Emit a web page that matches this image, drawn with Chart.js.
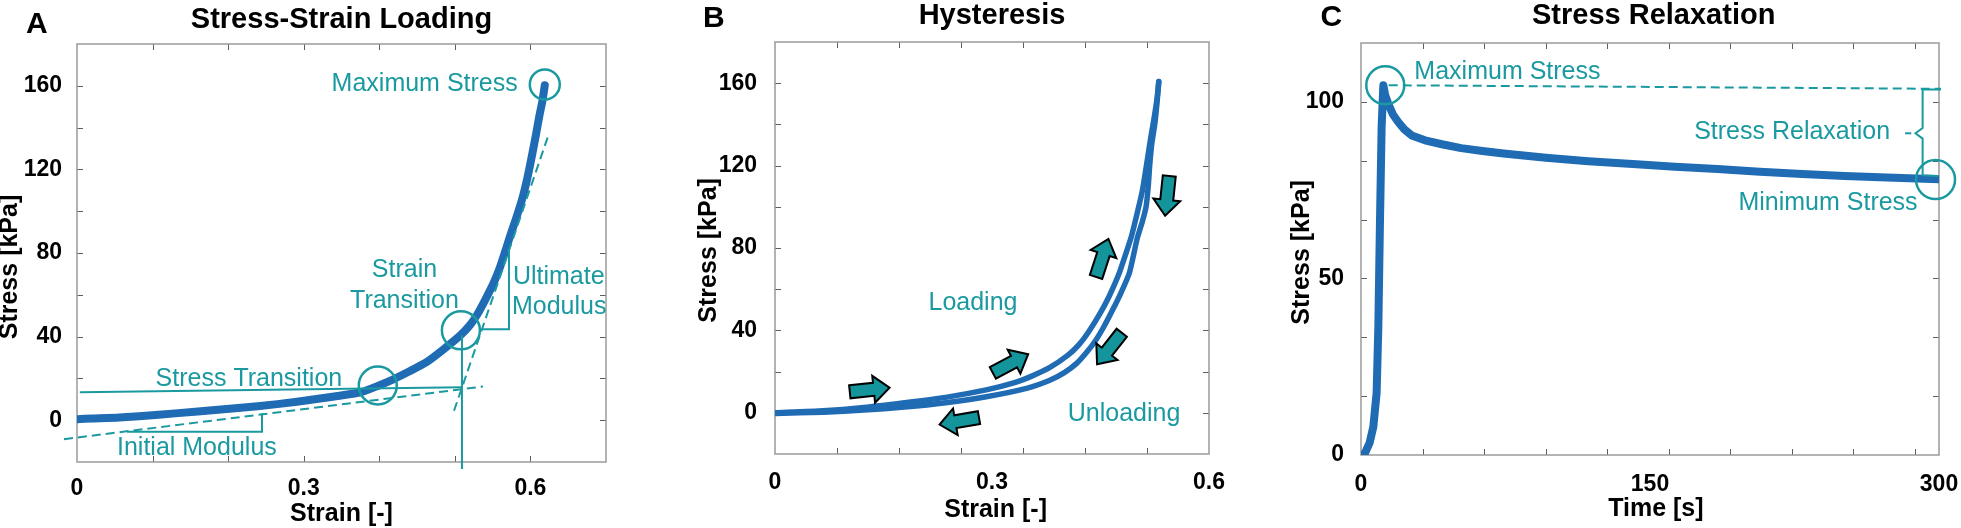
<!DOCTYPE html>
<html><head><meta charset="utf-8">
<script src="https://cdn.jsdelivr.net/npm/chart.js@4.4.1/dist/chart.umd.min.js"></script>
<style>
html,body{margin:0;padding:0;background:#fff;}
#wrap{position:relative;width:1961px;height:528px;overflow:hidden;background:#fff;}
canvas{position:absolute;top:0;}
</style></head><body>
<div id="wrap">
<canvas id="cA" width="640" height="528" style="left:0px"></canvas>
<canvas id="cB" width="640" height="528" style="left:640px"></canvas>
<canvas id="cC" width="681" height="528" style="left:1280px"></canvas>
</div>
<script>
// ---------- Panel A: stress-strain loading ----------
const strainA = [0, 0.02, 0.056, 0.108, 0.16, 0.213, 0.265, 0.317, 0.345, 0.375, 0.398, 0.42, 0.44, 0.463, 0.485, 0.507, 0.52, 0.529, 0.54, 0.551, 0.56, 0.5685, 0.573, 0.581, 0.589, 0.596, 0.602, 0.607, 0.612, 0.616, 0.619];
const stressA = [0.5, 0.8, 1.3, 2.6, 4.2, 5.8, 7.7, 10.1, 11.6, 13.3, 16.4, 19.8, 23.4, 27.9, 33.9, 40.5, 45.5, 50.2, 57.5, 65.4, 73.5, 82.9, 88, 96.5, 105.7, 116, 126.6, 136, 145.9, 153, 160.3];
const aXTicks = [0, 0.3, 0.6];
const aXTickText = ['0', '0.3', '0.6'];
const aYTicks = [0, 40, 80, 120, 160];
const aXMarks = [0.1, 0.2, 0.3, 0.4, 0.5, 0.6];
const aYMarks = [0, 20, 40, 60, 80, 100, 120, 140, 160];
const aInitialTangent = [[-0.0172, -9.1], [0.5372, 16.1]];
const aInitialLegs = [[0.0662, -5.5], [0.2448, -5.5], [0.2448, 3.3]];
const aStressTransLine = [[0.0037, 13.4], [0.5104, 15.8]];
const aStrainTransLine = [[0.5094, 40.7], [0.5094, -23.4]];
const aUltimateTangent = [[0.4989, 4.5], [0.6227, 135.2]];
const aUltimateLegs = [[0.5354, 43.5], [0.5716, 43.5], [0.5716, 81.8]];
const aCircles = [[0.619, 160.6], [0.508, 43.0], [0.398, 16.6]];
const aCircleRadii = [15, 19, 19];

// ---------- Panel B: hysteresis ----------
const loadStrainB = [0, 0.0666, 0.123, 0.179, 0.236, 0.292, 0.33, 0.355, 0.38, 0.405, 0.42, 0.433, 0.449, 0.462, 0.475, 0.484, 0.493, 0.501, 0.508, 0.515, 0.519, 0.524, 0.528, 0.5306];
const loadStressB = [0, 1, 2.6, 4.9, 7.5, 11.1, 14.5, 17.8, 22, 28, 33, 39, 48, 56.6, 67, 76.2, 86, 97.3, 108, 123.4, 132.5, 142.9, 152, 160.8];
const unloadStrainB = [0.5306, 0.528, 0.525, 0.521, 0.518, 0.516, 0.513, 0.508, 0.501, 0.49, 0.478, 0.467, 0.455, 0.443, 0.43, 0.417, 0.4, 0.38, 0.349, 0.292, 0.236, 0.179, 0.123, 0.067, 0];
const unloadStressB = [160.8, 150, 140, 131, 120, 110, 100, 93, 85, 68, 58, 50.1, 42, 35, 29, 24, 19.5, 15.8, 12, 7.8, 4.9, 2.8, 1.3, 0.3, -0.3];
const bXTicks = [0, 0.3, 0.6];
const bXTickText = ['0', '0.3', '0.6'];
const bYTicks = [0, 40, 80, 120, 160];
const bXMarks = [0.0857, 0.1714, 0.2571, 0.3429, 0.4286, 0.5143];
const bYMarks = [0, 20, 40, 60, 80, 100, 120, 140, 160];
const bArrowStrain = [0.1309, 0.3256, 0.4524, 0.5422, 0.4623, 0.2548];
const bArrowStress = [11.2, 23.9, 75.2, 105.3, 31.2, -4.0];
const bArrowAngle = [-6, -28, -72, 96, 128, 170];

// ---------- Panel C: stress relaxation ----------
const timeC = [0, 2.07, 4.5, 6.4, 8.1, 9.0, 9.8, 10.7, 11.6, 12.5, 14.1, 16.5, 19.3, 22.5, 26.3, 33.2, 42, 52, 63, 74, 96, 118, 141, 163, 185, 207, 229, 251, 273, 300];
const stressC = [0, 0.5, 3.5, 8, 17.5, 36.3, 64.6, 92.9, 104.7, 102, 99.5, 96.5, 94.3, 92.2, 90.5, 89.1, 88, 86.9, 86.1, 85.4, 84.2, 83.2, 82.4, 81.6, 81, 80.2, 79.6, 79, 78.6, 78.1];
const cXTicks = [0, 150, 300];
const cXTickText = ['0', '150', '300'];
const cYTicks = [0, 50, 100];
const cXMarks = [31.95, 63.9, 95.85, 127.8, 159.75, 191.7, 223.65, 255.6, 287.55];
const cYMarks = [16.667, 33.333, 50, 66.667, 83.333, 100];
const cMaxLine = [[14.4, 104.7], [301, 103.7]];
const cBrace = [[301, 103.5], [291.5, 103.5], [291.5, 92.6], [287.8, 91.1], [291.5, 89.6], [291.5, 79.2], [299.5, 79.0]];
const cBraceDash = [[282.4, 91.1], [285.6, 91.1]];
const cCircles = [[12.6, 104.7], [298.2, 78.0]];
const cCircleRadii = [19, 19.5];

// ---------- styles ----------
const BLUE = '#1f6bb4';
const TEAL = '#1a9aa0';
const FAM = '"Liberation Sans", Arial, Helvetica, sans-serif';

const pts = (xs, ys) => xs.map((v, i) => ({x: v, y: ys[i]}));
const pairs = arr => arr.map(p => ({x: p[0], y: p[1]}));

function curve(data, w, tension) {
  return {data, showLine: true, borderColor: BLUE, borderWidth: w, pointRadius: 0,
    borderCapStyle: 'round', borderJoinStyle: 'round', tension: tension || 0, order: 1};
}
function annoLine(data, dashed) {
  return {data, showLine: true, borderColor: TEAL, borderWidth: 2, pointRadius: 0,
    borderDash: dashed ? [9, 5] : [], tension: 0, clip: false, order: 0};
}
function circles(data, radii) {
  return {data, showLine: false, pointRadius: radii, pointHoverRadius: radii, pointStyle: 'circle',
    pointBorderColor: TEAL, pointBackgroundColor: 'rgba(0,0,0,0)', pointBorderWidth: 2.5, clip: false, order: 0};
}

function drawArrow(ctx, cx, cy, angDeg) {
  const L = 40, sw = 13, hw = 27, hl = 16;
  ctx.save();
  ctx.translate(cx, cy);
  ctx.rotate(angDeg * Math.PI / 180);
  ctx.beginPath();
  ctx.moveTo(-L / 2, -sw / 2);
  ctx.lineTo(L / 2 - hl, -sw / 2);
  ctx.lineTo(L / 2 - hl, -hw / 2);
  ctx.lineTo(L / 2, 0);
  ctx.lineTo(L / 2 - hl, hw / 2);
  ctx.lineTo(L / 2 - hl, sw / 2);
  ctx.lineTo(-L / 2, sw / 2);
  ctx.closePath();
  ctx.fillStyle = '#13959b';
  ctx.fill();
  ctx.lineWidth = 2;
  ctx.strokeStyle = '#000';
  ctx.lineJoin = 'miter';
  ctx.stroke();
  ctx.restore();
}

function deco(spec) {
  return {
    id: 'deco',
    beforeDatasetsDraw(chart) {
      const {ctx, chartArea: a, scales: {x, y}} = chart;
      ctx.save();
      ctx.strokeStyle = '#5e5e5e';
      ctx.lineWidth = 1;
      ctx.beginPath();
      spec.xMarks.forEach(v => {
        const px = Math.round(x.getPixelForValue(v)) + 0.5;
        ctx.moveTo(px, a.bottom); ctx.lineTo(px, a.bottom - 6);
        ctx.moveTo(px, a.top); ctx.lineTo(px, a.top + 6);
      });
      spec.yMarks.forEach(v => {
        const py = Math.round(y.getPixelForValue(v)) + 0.5;
        ctx.moveTo(a.left, py); ctx.lineTo(a.left + 6, py);
        ctx.moveTo(a.right, py); ctx.lineTo(a.right - 6, py);
      });
      ctx.stroke();
      ctx.strokeStyle = '#9a9a9a';
      ctx.lineWidth = 1.5;
      ctx.strokeRect(a.left, a.top, a.right - a.left, a.bottom - a.top);
      ctx.restore();
    },
    afterDatasetsDraw(chart) {
      const {ctx, scales: {x, y}} = chart;
      ctx.save();
      ctx.font = '25px ' + FAM;
      ctx.fillStyle = TEAL;
      ctx.textBaseline = 'alphabetic';
      (spec.texts || []).forEach(t => {
        ctx.textAlign = t.align;
        ctx.fillText(t.text, x.getPixelForValue(t.x), y.getPixelForValue(t.y));
      });
      (spec.arrows || []).forEach(ar => {
        drawArrow(ctx, x.getPixelForValue(ar.x), y.getPixelForValue(ar.y), ar.ang);
      });
      ctx.fillStyle = '#000';
      ctx.textAlign = 'left';
      ctx.font = 'bold 30px ' + FAM;
      ctx.fillText(spec.letter.text, spec.letter.x, spec.letter.y);
      ctx.textAlign = 'center';
      ctx.font = 'bold 29px ' + FAM;
      ctx.fillText(spec.title.text, spec.title.cx, spec.title.y);
      ctx.font = 'bold 25px ' + FAM;
      ctx.fillText(spec.xTitle.text, spec.xTitle.cx, spec.xTitle.y);
      ctx.save();
      ctx.translate(spec.yTitle.x, spec.yTitle.cy);
      ctx.rotate(-Math.PI / 2);
      ctx.fillText(spec.yTitle.text, 0, 0);
      ctx.restore();
      ctx.restore();
    }
  };
}

function makeChart(id, o) {
  const cv = document.getElementById(id);
  const W = cv.width, H = cv.height;
  const tickFont = {family: FAM, size: 23, weight: 'bold', lineHeight: 1.2};
  return new Chart(cv, {
    type: 'scatter',
    data: {datasets: o.datasets},
    options: {
      responsive: false, animation: false, devicePixelRatio: 1,
      events: [],
      layout: {padding: {left: 0, top: o.area.top, right: W - o.area.right, bottom: 0}},
      plugins: {legend: {display: false}, tooltip: {enabled: false}, title: {display: false}},
      scales: {
        x: {
          type: 'linear', min: o.x.min, max: o.x.max,
          grid: {display: false}, border: {display: false},
          ticks: {font: tickFont, color: '#000', padding: o.x.pad, maxRotation: 0, autoSkip: false,
                  callback: (v, i) => o.x.text[i]},
          afterBuildTicks: s => { s.ticks = o.x.ticks.map(v => ({value: v})); },
          afterFit: s => { s.height = H - o.area.bottom; s.paddingLeft = 0; s.paddingRight = 0; }
        },
        y: {
          type: 'linear', min: o.y.min, max: o.y.max,
          grid: {display: false}, border: {display: false},
          ticks: {font: tickFont, color: '#000', padding: o.y.pad, autoSkip: false,
                  callback: v => String(v)},
          afterBuildTicks: s => { s.ticks = o.y.ticks.map(v => ({value: v})); },
          afterFit: s => { s.width = o.area.left; s.paddingTop = 0; s.paddingBottom = 0; }
        }
      }
    },
    plugins: [deco(o.deco)]
  });
}

// ---------- Chart A ----------
makeChart('cA', {
  area: {left: 77, top: 44, right: 606, bottom: 462},
  x: {min: 0, max: 0.7, ticks: aXTicks, text: aXTickText, pad: 5},
  y: {min: -20, max: 180, ticks: aYTicks, pad: 7},
  datasets: [
    curve(pts(strainA, stressA), 8, 0.2),
    annoLine(pairs(aInitialTangent), true),
    annoLine(pairs(aInitialLegs), false),
    annoLine(pairs(aStressTransLine), false),
    annoLine(pairs(aStrainTransLine), false),
    annoLine(pairs(aUltimateTangent), true),
    annoLine(pairs(aUltimateLegs), false),
    circles(pairs(aCircles), aCircleRadii)
  ],
  deco: {
    xMarks: aXMarks, yMarks: aYMarks,
    letter: {text: 'A', x: 26, y: 33},
    title: {text: 'Stress-Strain Loading', cx: 341.5, y: 27.5},
    xTitle: {text: 'Strain [-]', cx: 341.5, y: 521},
    yTitle: {text: 'Stress [kPa]', x: 17, cy: 267},
    texts: [
      {text: 'Maximum Stress', x: 0.3369, y: 157.6, align: 'left'},
      {text: 'Strain', x: 0.4334, y: 68.4, align: 'center'},
      {text: 'Transition', x: 0.4333, y: 53.9, align: 'center'},
      {text: 'Ultimate', x: 0.5768, y: 65.1, align: 'left'},
      {text: 'Modulus', x: 0.5755, y: 50.7, align: 'left'},
      {text: 'Stress Transition', x: 0.104, y: 16.3, align: 'left'},
      {text: 'Initial Modulus', x: 0.0529, y: -16.7, align: 'left'}
    ]
  }
});

// ---------- Chart B ----------
makeChart('cB', {
  area: {left: 135, top: 42, right: 569, bottom: 454},
  x: {min: 0, max: 0.6, ticks: bXTicks, text: bXTickText, pad: 7},
  y: {min: -20, max: 180, ticks: bYTicks, pad: 10},
  datasets: [
    curve(pts(loadStrainB, loadStressB), 5.5, 0.2),
    curve(pts(unloadStrainB, unloadStressB), 5.5, 0.2)
  ],
  deco: {
    xMarks: bXMarks, yMarks: bYMarks,
    letter: {text: 'B', x: 63, y: 27},
    title: {text: 'Hysteresis', cx: 352, y: 24},
    xTitle: {text: 'Strain [-]', cx: 355.6, y: 517},
    yTitle: {text: 'Stress [kPa]', x: 76, cy: 250.4},
    texts: [
      {text: 'Loading', x: 0.2737, y: 49.8, align: 'center'},
      {text: 'Unloading', x: 0.4825, y: -4.1, align: 'center'}
    ],
    arrows: bArrowStrain.map((v, i) => ({x: v, y: bArrowStress[i], ang: bArrowAngle[i]}))
  }
});

// ---------- Chart C ----------
makeChart('cC', {
  area: {left: 81, top: 43, right: 660, bottom: 455},
  x: {min: 0, max: 300, ticks: cXTicks, text: cXTickText, pad: 8},
  y: {min: 0, max: 350 / 3, ticks: cYTicks, pad: 9},
  datasets: [
    curve(pts(timeC, stressC), 8, 0),
    annoLine(pairs(cMaxLine), true),
    annoLine(pairs(cBrace), false),
    annoLine(pairs(cBraceDash), false),
    circles(pairs(cCircles), cCircleRadii)
  ],
  deco: {
    xMarks: cXMarks, yMarks: cYMarks,
    letter: {text: 'C', x: 40.4, y: 25.5},
    title: {text: 'Stress Relaxation', cx: 373.7, y: 24},
    xTitle: {text: 'Time [s]', cx: 375.9, y: 516},
    yTitle: {text: 'Stress [kPa]', x: 29, cy: 252.4},
    texts: [
      {text: 'Maximum Stress', x: 27.7, y: 106.6, align: 'left'},
      {text: 'Stress Relaxation', x: 274.6, y: 89.4, align: 'right'},
      {text: 'Minimum Stress', x: 288.9, y: 69.4, align: 'right'}
    ]
  }
});
</script>
</body></html>
